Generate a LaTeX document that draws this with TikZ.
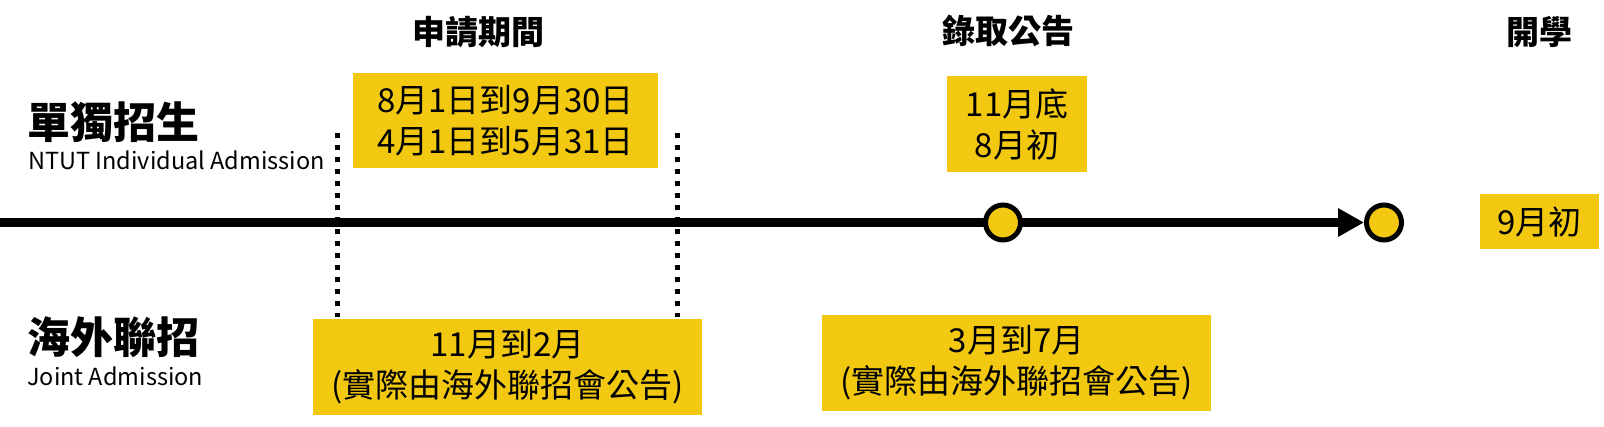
\documentclass[tikz,border=0pt]{standalone}
\usepackage{fontspec}
\setmainfont{Noto Sans CJK TC}
\usetikzlibrary{arrows.meta}
\definecolor{tyellow}{RGB}{242,200,17}
\begin{document}
\begin{tikzpicture}[x=1pt,y=-1pt,
	yellowbox/.style={fill=tyellow,inner sep=0pt,align=center,font=\fontsize{33}{41}\selectfont},
	heading/.style={font=\bfseries\fontsize{33}{40}\selectfont},
	rowname/.style={anchor=west,inner sep=0pt,font=\bfseries\fontsize{43}{50}\selectfont},
	rowsub/.style={anchor=base west,inner sep=0pt,font=\fontsize{23.5}{28}\selectfont},
	milestone/.style={circle,draw=black,line width=5pt,fill=tyellow,minimum size=35pt,inner sep=0pt},
	sepline/.style={line width=5pt,dash pattern=on 5pt off 7pt}]
	\useasboundingbox (0,0) rectangle (1604,426);

	\node[heading] (apply) at (478,32) {申請期間};
	\node[heading] (result) at (1008,31) {錄取公告};
	\node[heading] (school) at (1539,32) {開學};

	\node[rowname] (ntut) at (27,122) {單獨招生};
	\node[rowsub] (ntuten) at (28,169) {NTUT Individual Admission};
	\node[rowname] (joint) at (27,337) {海外聯招};
	\node[rowsub] (jointen) at (27,385) {Joint Admission};

	% application period
	\draw[sepline] (337,133) -- (337,317);
	\draw[sepline] (677,133) -- (677,317);

	% time line
	\coordinate (tstart) at (0,222.5);
	\node[milestone] (close) at (1384,222.5) {};
	\draw[line width=9pt,-{Triangle[length=26pt,width=27pt]}] (tstart) -- (close.west);
	\node[milestone] (notice) at (1003,222.5) {};

	\node[yellowbox,minimum width=305pt,minimum height=95pt] (ntutapply) at (505.5,120.5) {8月1日到9月30日\\4月1日到5月31日};
	\node[yellowbox,minimum width=140pt,minimum height=96pt] (ntutresult) at (1017,124) {11月底\\8月初};
	\node[yellowbox,minimum width=119pt,minimum height=55pt] (begin) at (1539.5,221.5) {9月初};
	\node[yellowbox,minimum width=389pt,minimum height=96pt] (jointapply) at (507.5,367) {11月到2月\\(實際由海外聯招會公告)};
	\node[yellowbox,minimum width=389pt,minimum height=96pt] (jointresult) at (1016.5,363) {3月到7月\\(實際由海外聯招會公告)};
\end{tikzpicture}
\end{document}
